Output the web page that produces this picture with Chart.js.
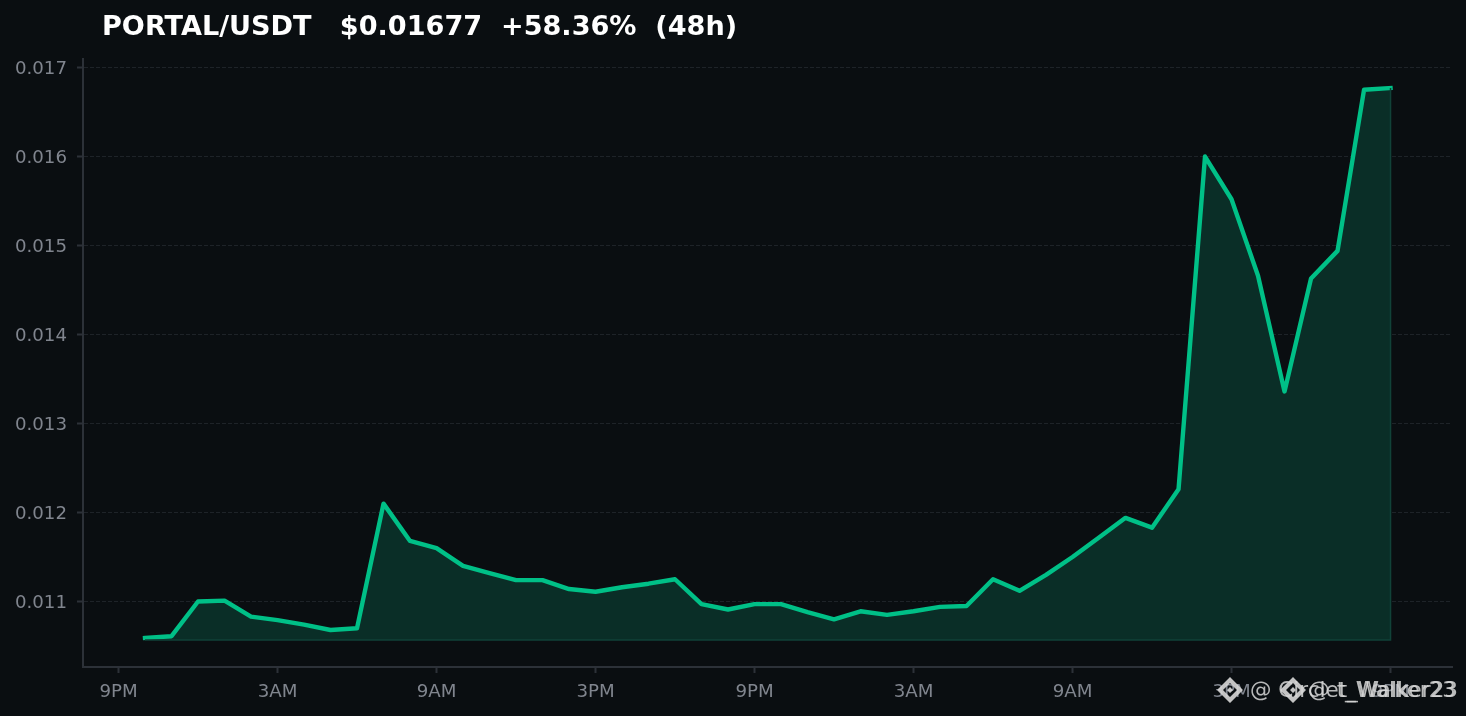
<!DOCTYPE html>
<html>
<head>
<meta charset="utf-8">
<script src="https://cdn.jsdelivr.net/npm/chart.js@4"></script>
<style>
  html, body { margin: 0; padding: 0; background: #0a0e11; overflow: hidden; }
  #wrap { position: relative; width: 1466px; height: 716px; }
  #title {
    position: absolute; left: 102px; top: 10px; margin: 0;
    color: #fff; font: bold 27.1px "DejaVu Sans"; white-space: pre;
  }
  .mark {
    position: absolute; top: 677px; right: 8px; color: #d8d8d8; opacity: 0.85;
    font: 21.5px "DejaVu Sans"; white-space: pre;
  }
  .logo { position: absolute; top: 676px; width: 28px; height: 28px; opacity: 0.9; }
</style>
</head>
<body>
<div id="wrap">
  <canvas id="myChart" width="1466" height="716"></canvas>
  <h1 id="title">PORTAL/USDT   $0.01677  +58.36%  (48h)</h1>
  <div class="mark">@ Circlet_Walker23</div>
  <div class="mark" style="right:10px">@ t_Walker23</div>
  <svg class="logo" style="left:1216px" viewBox="0 0 28 28"><path d="M14 1 27 14 14 27 1 14Z M14 7 7 14 14 21 21 14Z M14 11 17 14 14 17 11 14Z" fill="#d8d8d8" fill-rule="evenodd"/></svg>
  <svg class="logo" style="left:1279px" viewBox="0 0 28 28"><path d="M14 1 27 14 14 27 1 14Z M14 7 7 14 14 21 21 14Z M14 11 17 14 14 17 11 14Z" fill="#d8d8d8" fill-rule="evenodd"/></svg>
</div>
<script>
const hours = [1, 2, 3, 4, 5, 6, 7, 8, 9, 10, 11, 12, 13, 14, 15, 16, 17, 18, 19, 20, 21, 22, 23, 24,
  25, 26, 27, 28, 29, 30, 31, 32, 33, 34, 35, 36, 37, 38, 39, 40, 41, 42, 43, 44, 45, 46, 47, 48];
const prices = [0.01059, 0.01061, 0.011, 0.01101, 0.01083, 0.01079, 0.01074, 0.01068,
  0.0107, 0.0121, 0.01168, 0.0116, 0.0114, 0.01132, 0.01124, 0.01124,
  0.01114, 0.01111, 0.01116, 0.0112, 0.01125, 0.01097, 0.01091, 0.01097,
  0.01097, 0.01088, 0.0108, 0.01089, 0.01085, 0.01089, 0.01094, 0.01095,
  0.01125, 0.01112, 0.0113, 0.0115, 0.01172, 0.01194, 0.01183, 0.01226,
  0.016, 0.01552, 0.01466, 0.01336, 0.01463, 0.01494, 0.01675, 0.01677];
const xTickLabels = ["9PM", "3AM", "9AM", "3PM", "9PM", "3AM", "9AM", "3PM", "9PM"];
const fillBase = 0.010567;

const axisColor = "#2c3138";
const textColor = "#80858e";

document.addEventListener("DOMContentLoaded", function () {
  const ctx = document.getElementById("myChart").getContext("2d");
  const lastHour = hours[hours.length - 1];
  const lastPrice = prices[prices.length - 1];

  new Chart(ctx, {
    type: "line",
    data: {
      datasets: [
        {
          // outline of the filled area, bottom and right edge
          data: [
            { x: hours[0], y: fillBase },
            { x: lastHour, y: fillBase },
            { x: lastHour, y: lastPrice },
          ],
          borderColor: "#114238",
          borderWidth: 1.5,
          pointRadius: 0,
          fill: false,
        },
        {
          data: hours.map((h, i) => ({ x: h, y: prices[i] })),
          borderColor: "#00c087",
          borderWidth: 4.4,
          backgroundColor: "#0a2e27",
          pointRadius: 0,
          tension: 0,
          borderJoinStyle: "round",
          borderCapStyle: "square",
          fill: { value: fillBase },
        },
      ],
    },
    options: {
      responsive: false,
      animation: false,
      layout: { padding: { top: 59, right: 14, left: 0, bottom: 0 } },
      plugins: { legend: { display: false }, tooltip: { enabled: false } },
      scales: {
        x: {
          type: "linear",
          min: -1.34,
          max: 50.32,
          grid: { drawOnChartArea: false, tickColor: axisColor, tickWidth: 2, tickLength: 6 },
          border: { color: axisColor, width: 2 },
          ticks: {
            stepSize: 6,
            includeBounds: false,
            maxRotation: 0,
            autoSkip: false,
            color: textColor,
            padding: 8,
            font: { family: "DejaVu Sans", size: 18.2 },
            callback: (v) => xTickLabels[v / 6],
          },
          afterFit: (scale) => { scale.height = 49; },
        },
        y: {
          min: 0.010264,
          max: 0.017096,
          grid: { color: "#1e2328", lineWidth: 1, tickColor: axisColor, tickWidth: 2, tickLength: 6 },
          border: { color: axisColor, width: 2, dash: [4, 2] },
          ticks: {
            stepSize: 0.001,
            includeBounds: false,
            autoSkip: false,
            color: textColor,
            padding: 10,
            labelOffset: 1.5,
            font: { family: "DejaVu Sans", size: 18.2 },
            callback: (v) => v.toFixed(3),
          },
          afterFit: (scale) => { scale.width = 83; },
        },
      },
    },
  });
});
</script>
</body>
</html>
